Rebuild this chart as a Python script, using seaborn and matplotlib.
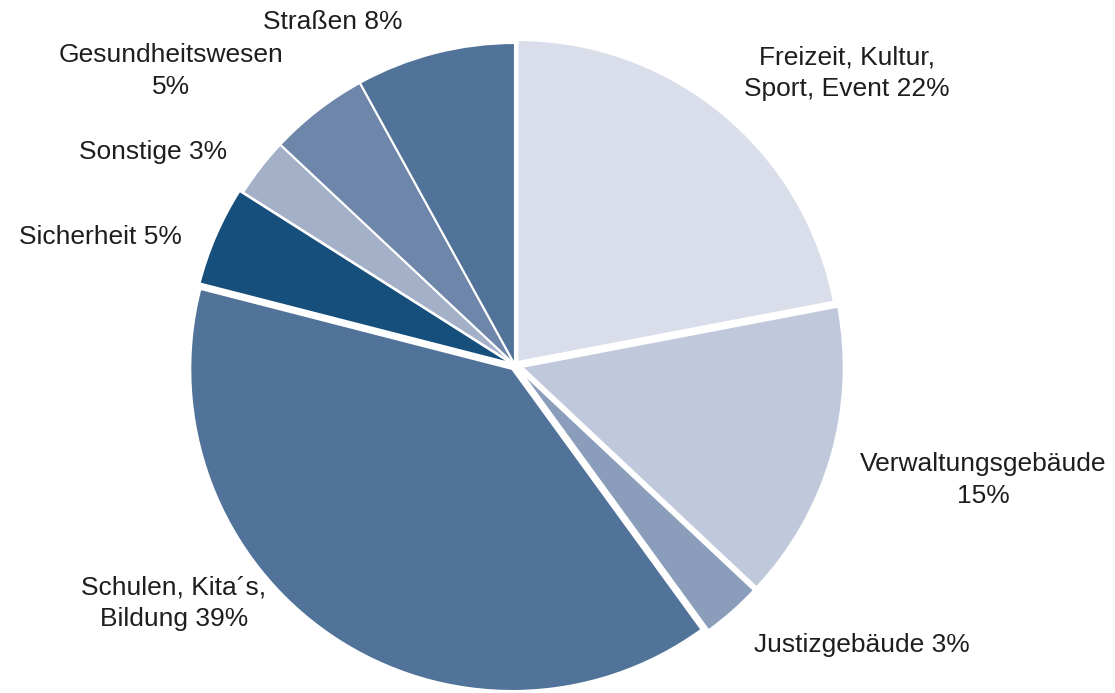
import matplotlib
matplotlib.use("Agg")
import matplotlib.pyplot as plt
import seaborn as sns

# slices clockwise from 12 o'clock
labels = ["Freizeit, Kultur,\nSport, Event 22%", "Verwaltungsgebäude\n15%",
          "Justizgebäude 3%", "Schulen, Kita´s,\nBildung 39%", "Sicherheit 5%",
          "Sonstige 3%", "Gesundheitswesen\n5%", "Straßen 8%"]
shares = [22, 15, 3, 39, 5, 3, 5, 8]
colors = ["#D9DEEA", "#C0C9DC", "#8A9EBB", "#517399", "#164F7C",
          "#A4B0C8", "#6E86AA", "#527399"]
explode = [0.012, 0.022, 0.02, 0.015, 0.012, 0, 0, 0]

# label centres in pixels (x, y from top)
label_px = [(847, 73), (983, 480), (862, 645), (174, 603), (100, 237),
            (153, 152), (171, 71), (333, 22)]

sns.set_theme(style="white")
plt.rcParams["font.family"] = ["Liberation Sans", "DejaVu Sans"]

W, H = 1115, 693
cx, cy, R = 515, 365, 322

fig = plt.figure(figsize=(W / 100, H / 100), dpi=100)
ax = fig.add_axes([0, 0, 1, 1])
ax.pie(shares, colors=colors, explode=explode, startangle=90, counterclock=False,
       wedgeprops=dict(edgecolor="white", linewidth=1.5))
ax.set_xlim(-cx / R, (W - cx) / R)
ax.set_ylim(-(H - cy) / R, cy / R)
ax.set_aspect("equal")
ax.axis("off")

for lab, (px, py) in zip(labels, label_px):
    fig.text(px / W, 1 - py / H, lab, ha="center", va="center",
             fontsize=19, color="#1E1E1E", linespacing=1.4)

fig.savefig("out.png", dpi=100, facecolor="white")
